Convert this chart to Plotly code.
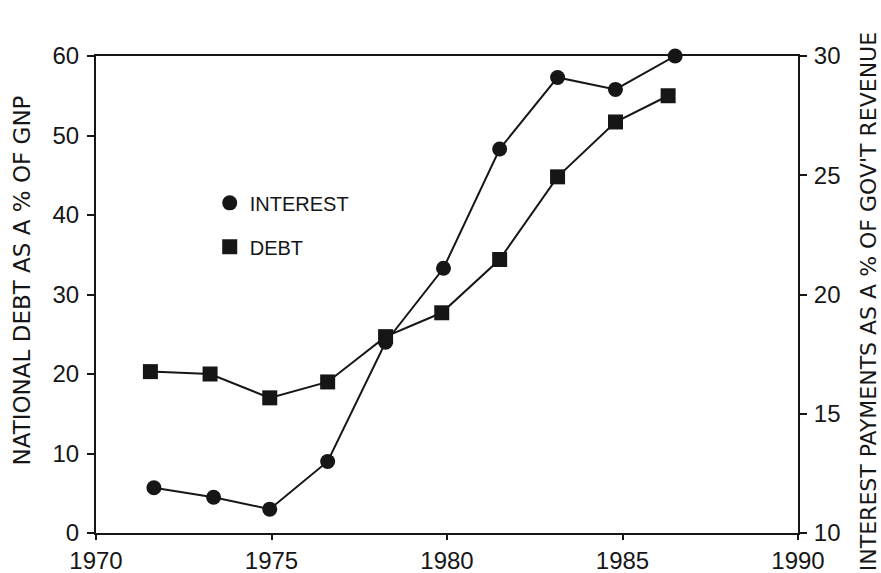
import plotly.graph_objects as go

# Data
debt_years = [1971.55, 1973.25, 1974.95, 1976.6, 1978.25, 1979.85, 1981.5, 1983.15, 1984.8, 1986.3]
debt_pct_gnp = [20.3, 20.0, 17.0, 19.0, 24.7, 27.7, 34.4, 44.8, 51.7, 55.0]

interest_years = [1971.65, 1973.35, 1974.95, 1976.6, 1978.25, 1979.9, 1981.5, 1983.15, 1984.8, 1986.5]
interest_pct_rev = [11.9, 11.5, 11.0, 13.0, 18.0, 21.1, 26.1, 29.1, 28.6, 30.0]

x_ticks = [1970, 1975, 1980, 1985, 1990]
left_ticks = [0, 10, 20, 30, 40, 50, 60]
right_ticks = [10, 15, 20, 25, 30]

left_title = "NATIONAL DEBT AS A % OF GNP"
right_title = "INTEREST PAYMENTS AS A % OF GOV'T REVENUE"

ink = "#161616"
font_family = "Liberation Sans, Arial, sans-serif"
title_family = "DejaVu Sans, sans-serif"

fig = go.Figure()

fig.add_trace(go.Scatter(
    x=debt_years, y=debt_pct_gnp, mode="lines+markers", name="DEBT",
    line=dict(color=ink, width=2),
    marker=dict(symbol="square", size=15, color=ink),
    showlegend=False, cliponaxis=False, yaxis="y"))

fig.add_trace(go.Scatter(
    x=interest_years, y=interest_pct_rev, mode="lines+markers", name="INTEREST",
    line=dict(color=ink, width=2),
    marker=dict(symbol="circle", size=15, color=ink),
    showlegend=False, cliponaxis=False, yaxis="y2"))

# legend-only entries (marker only, as in the original key)
fig.add_trace(go.Scatter(x=[None], y=[None], mode="markers", name="INTEREST",
                         marker=dict(symbol="circle", size=15, color=ink),
                         legendgroup="a", showlegend=True))
fig.add_trace(go.Scatter(x=[None], y=[None], mode="markers", name="DEBT",
                         marker=dict(symbol="square", size=15, color=ink),
                         legendgroup="b", showlegend=True))

axis_common = dict(showgrid=False, zeroline=False, showline=True, linecolor=ink,
                   linewidth=2, ticks="outside", tickwidth=1.5, tickcolor=ink,
                   automargin=False,
                   tickfont=dict(size=24, color=ink, family=font_family))

fig.update_layout(
    width=881, height=573,
    margin=dict(l=96, r=83, t=56, b=40),
    paper_bgcolor="white", plot_bgcolor="white",
    font=dict(family=font_family, color=ink),
    xaxis=dict(range=[1970, 1990], tickvals=x_ticks, ticktext=[str(v) for v in x_ticks],
               mirror=True, ticklen=5, ticklabelstandoff=0, **axis_common),
    yaxis=dict(range=[0, 60], tickvals=left_ticks, ticklen=7, ticklabelstandoff=3,
               **axis_common),
    yaxis2=dict(range=[10, 30], tickvals=right_ticks, overlaying="y", side="right",
                ticklen=7, ticklabelstandoff=2, **axis_common),
    legend=dict(x=0.162, y=0.733, xanchor="left", yanchor="top",
                bgcolor="rgba(0,0,0,0)", font=dict(size=20, color=ink, family=font_family),
                tracegroupgap=15, traceorder="grouped", itemwidth=30),
    annotations=[
        dict(text=left_title, xref="paper", yref="paper", x=-0.105, y=0.53,
             xanchor="center", yanchor="middle", textangle=-90, showarrow=False,
             font=dict(size=23, color=ink, family=title_family)),
        dict(text=right_title, xref="paper", yref="paper", x=1.0997, y=0.486,
             xanchor="center", yanchor="middle", textangle=-90, showarrow=False,
             font=dict(size=22, color=ink, family=title_family)),
    ],
)

fig.write_html(
    "out.html",
    config={"displayModeBar": False},
    post_script="document.body.style.margin='0';"
                "document.body.style.overflow='hidden';"
                "document.documentElement.style.overflow='hidden';",
)
